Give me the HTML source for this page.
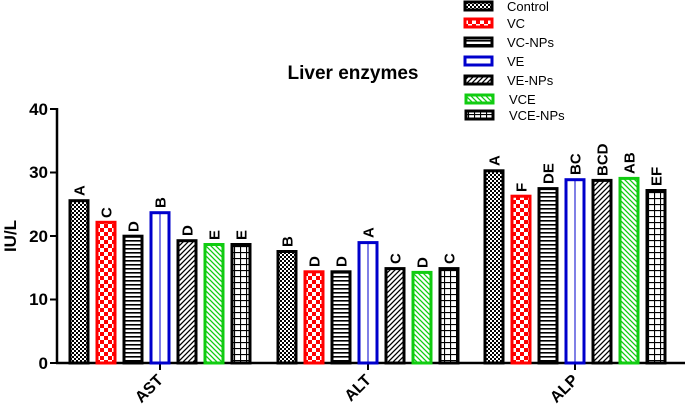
<!DOCTYPE html>
<html><head><meta charset="utf-8"><style>
html,body{margin:0;padding:0;background:#fff;}
svg{display:block;font-family:"Liberation Sans",Arial,sans-serif;}
</style></head><body>
<svg width="685" height="416" viewBox="0 0 685 416" xmlns="http://www.w3.org/2000/svg">
<defs>
<pattern id="pCheck" width="4" height="4" patternUnits="userSpaceOnUse"><rect width="4" height="4" fill="#fff"/><rect width="2" height="2" fill="#000"/><rect x="2" y="2" width="2" height="2" fill="#000"/></pattern>
<pattern id="pRed" width="8" height="8" patternUnits="userSpaceOnUse"><rect width="8" height="8" fill="#fff"/><rect width="4" height="4" fill="#f00"/><rect x="4" y="4" width="4" height="4" fill="#f00"/></pattern>
<pattern id="pHoriz" width="4" height="4" patternUnits="userSpaceOnUse"><rect width="4" height="4" fill="#fff"/><rect width="4" height="1.6" fill="#000"/></pattern>
<pattern id="pDiag" width="5" height="5" patternUnits="userSpaceOnUse"><rect width="5" height="5" fill="#fff"/><path d="M0,5 L5,0 M-1,1 L1,-1 M4,6 L6,4" stroke="#000" stroke-width="1.3"/></pattern>
<pattern id="pGreen" width="5" height="5" patternUnits="userSpaceOnUse"><rect width="5" height="5" fill="#fff"/><path d="M0,0 L5,5 M-1,4 L1,6 M4,-1 L6,1" stroke="#1c1" stroke-width="1.3"/></pattern>
<pattern id="pGrid" width="6" height="6" patternUnits="userSpaceOnUse"><rect width="6" height="6" fill="#fff"/><path d="M0,0.5 H6 M0.5,0 V6" stroke="#000" stroke-width="1.2"/></pattern>
</defs>

<text x="353" y="79" font-size="19" font-weight="bold" text-anchor="middle">Liver enzymes</text>

<line x1="57" y1="108" x2="57" y2="364" stroke="#000" stroke-width="2.5"/>
<line x1="56" y1="363" x2="685" y2="363" stroke="#000" stroke-width="2.5"/>
<g stroke="#000" stroke-width="2">
<line x1="50" y1="109" x2="57" y2="109"/><line x1="50" y1="172.5" x2="57" y2="172.5"/><line x1="50" y1="236" x2="57" y2="236"/><line x1="50" y1="299.5" x2="57" y2="299.5"/><line x1="50" y1="363" x2="57" y2="363"/>
<line x1="160" y1="363" x2="160" y2="370"/><line x1="368" y1="363" x2="368" y2="370"/><line x1="575" y1="363" x2="575" y2="370"/>
</g>
<g font-size="17" font-weight="bold" text-anchor="end">
<text x="48" y="115">40</text><text x="48" y="178">30</text><text x="48" y="242">20</text><text x="48" y="305">10</text><text x="48" y="369">0</text>
</g>
<text transform="translate(16,236) rotate(-90)" font-size="17" font-weight="bold" text-anchor="middle">IU/L</text>
<g font-size="16" font-weight="bold" text-anchor="end">
<text transform="translate(164,381) rotate(-45)">AST</text>
<text transform="translate(372,381) rotate(-45)">ALT</text>
<text transform="translate(579,381) rotate(-45)">ALP</text>
</g>

<g stroke-width="3">
<!-- AST -->
<rect x="70" y="200.7" width="18" height="162.3" fill="url(#pCheck)" stroke="#000"/>
<rect x="97" y="222.3" width="18" height="140.7" fill="url(#pRed)" stroke="#f00"/>
<rect x="124" y="236.2" width="18" height="126.8" fill="url(#pHoriz)" stroke="#000"/>
<rect x="151" y="212.7" width="18" height="150.3" fill="#fff" stroke="#00c"/>
<rect x="178" y="240.7" width="18" height="122.3" fill="url(#pDiag)" stroke="#000"/>
<rect x="205" y="244.5" width="18" height="118.5" fill="url(#pGreen)" stroke="#1c1"/>
<rect x="232" y="244.5" width="18" height="118.5" fill="url(#pGrid)" stroke="#000"/>
<!-- ALT -->
<rect x="278" y="251.5" width="18" height="111.5" fill="url(#pCheck)" stroke="#000"/>
<rect x="305" y="271.8" width="18" height="91.2" fill="url(#pRed)" stroke="#f00"/>
<rect x="332" y="271.8" width="18" height="91.2" fill="url(#pHoriz)" stroke="#000"/>
<rect x="359" y="242.6" width="18" height="120.4" fill="#fff" stroke="#00c"/>
<rect x="386" y="268.6" width="18" height="94.4" fill="url(#pDiag)" stroke="#000"/>
<rect x="413" y="272.4" width="18" height="90.6" fill="url(#pGreen)" stroke="#1c1"/>
<rect x="440" y="268.6" width="18" height="94.4" fill="url(#pGrid)" stroke="#000"/>
<!-- ALP -->
<rect x="485" y="170.8" width="18" height="192.2" fill="url(#pCheck)" stroke="#000"/>
<rect x="512" y="196.2" width="18" height="166.8" fill="url(#pRed)" stroke="#f00"/>
<rect x="539" y="188.6" width="18" height="174.4" fill="url(#pHoriz)" stroke="#000"/>
<rect x="566" y="179.7" width="18" height="183.3" fill="#fff" stroke="#00c"/>
<rect x="593" y="180.4" width="18" height="182.6" fill="url(#pDiag)" stroke="#000"/>
<rect x="620" y="178.4" width="18" height="184.6" fill="url(#pGreen)" stroke="#1c1"/>
<rect x="647" y="190.5" width="18" height="172.5" fill="url(#pGrid)" stroke="#000"/>
</g>
<g stroke="#00c" stroke-width="1">
<line x1="160" y1="213" x2="160" y2="363"/><line x1="368" y1="243" x2="368" y2="363"/><line x1="575" y1="180" x2="575" y2="363"/>
</g>

<g font-size="15" font-weight="bold">
<text transform="translate(84.5,196) rotate(-90)">A</text>
<text transform="translate(111.5,218) rotate(-90)">C</text>
<text transform="translate(138.5,232) rotate(-90)">D</text>
<text transform="translate(165.5,208) rotate(-90)">B</text>
<text transform="translate(192.5,236) rotate(-90)">D</text>
<text transform="translate(219.5,240) rotate(-90)">E</text>
<text transform="translate(246.5,240) rotate(-90)">E</text>
<text transform="translate(292.5,247) rotate(-90)">B</text>
<text transform="translate(319.5,267) rotate(-90)">D</text>
<text transform="translate(346.5,267) rotate(-90)">D</text>
<text transform="translate(373.5,238) rotate(-90)">A</text>
<text transform="translate(400.5,264) rotate(-90)">C</text>
<text transform="translate(427.5,268) rotate(-90)">D</text>
<text transform="translate(454.5,264) rotate(-90)">C</text>
<text transform="translate(499.5,166) rotate(-90)">A</text>
<text transform="translate(526.5,192) rotate(-90)">F</text>
<text transform="translate(553.5,184) rotate(-90)">DE</text>
<text transform="translate(580.5,175) rotate(-90)">BC</text>
<text transform="translate(607.5,176) rotate(-90)">BCD</text>
<text transform="translate(634.5,174) rotate(-90)">AB</text>
<text transform="translate(661.5,186) rotate(-90)">EF</text>
</g>

<g stroke-width="3">
<rect x="465" y="2" width="27" height="8" fill="url(#pCheck)" stroke="#000"/>
<rect x="465" y="19" width="27" height="8" fill="url(#pRed)" stroke="#f00"/>
<rect x="465" y="38" width="27" height="8" fill="url(#pHoriz)" stroke="#000"/>
<rect x="465" y="57" width="27" height="8" fill="#fff" stroke="#00c"/>
<rect x="465" y="76" width="27" height="8" fill="url(#pDiag)" stroke="#000"/>
<rect x="466" y="95" width="27" height="8" fill="url(#pGreen)" stroke="#1c1"/>
<rect x="466" y="111" width="27" height="8" fill="url(#pGrid)" stroke="#000"/>
</g>
<g font-size="13">
<text x="507" y="11">Control</text><text x="507" y="28">VC</text><text x="507" y="47">VC-NPs</text><text x="507" y="66">VE</text><text x="507" y="85">VE-NPs</text><text x="509" y="104">VCE</text><text x="509" y="120">VCE-NPs</text>
</g>
</svg>
</body></html>
